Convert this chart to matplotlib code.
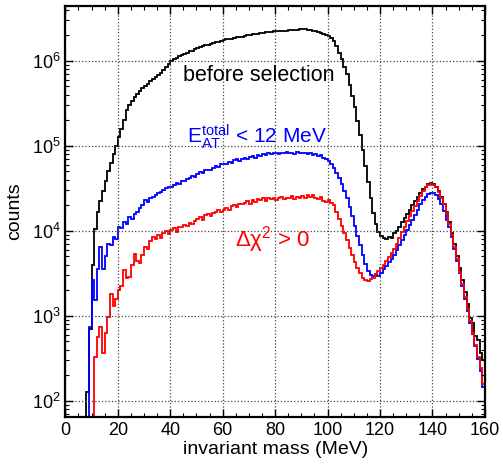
import numpy as np
import matplotlib
matplotlib.use('Agg')
import matplotlib.pyplot as plt
from matplotlib.ticker import LogLocator, NullFormatter, MultipleLocator

plt.rcParams['font.family'] = ['Liberation Sans', 'DejaVu Sans']
plt.rcParams['mathtext.fontset'] = 'custom'
plt.rcParams['mathtext.rm'] = 'Liberation Sans'
plt.rcParams['mathtext.it'] = 'Liberation Sans:italic'
plt.rcParams['mathtext.default'] = 'regular'

# bin edges in MeV (1 MeV bins)
edges = np.arange(0, 161, 1)

# log10(counts) per bin, 0 = empty bin
before_sel = [
    0, 0, 0, 0, 0, 0, 0, 0, 2.10, 2.85,
    3.60, 4.02, 4.22, 4.35, 4.47, 4.59, 4.70, 4.80, 4.90, 5.00,
    5.10, 5.20, 5.30, 5.42, 5.48, 5.53, 5.57, 5.61, 5.645, 5.675,
    5.70, 5.73, 5.76, 5.785, 5.81, 5.835, 5.86, 5.895, 5.93, 5.965,
    6.00, 6.02, 6.035, 6.055, 6.07, 6.085, 6.095, 6.11, 6.12, 6.135,
    6.145, 6.16, 6.17, 6.18, 6.19, 6.20, 6.21, 6.22, 6.225, 6.235,
    6.24, 6.25, 6.255, 6.26, 6.265, 6.275, 6.28, 6.285, 6.29, 6.30,
    6.305, 6.31, 6.315, 6.32, 6.325, 6.33, 6.335, 6.34, 6.34, 6.345,
    6.345, 6.35, 6.35, 6.355, 6.355, 6.36, 6.36, 6.365, 6.365, 6.37,
    6.37, 6.37, 6.365, 6.36, 6.355, 6.35, 6.34, 6.33, 6.32, 6.305,
    6.29, 6.265, 6.23, 6.17, 6.09, 6.02, 5.93, 5.84, 5.72, 5.59,
    5.45, 5.29, 5.13, 4.95, 4.76, 4.57, 4.38, 4.21, 4.08, 3.98,
    3.94, 3.91, 3.90, 3.93, 3.92, 3.97, 4.00, 4.05, 4.10, 4.15,
    4.20, 4.25, 4.30, 4.35, 4.40, 4.45, 4.49, 4.52, 4.55, 4.56,
    4.55, 4.52, 4.47, 4.40, 4.32, 4.22, 4.10, 3.97, 3.84, 3.70,
    3.56, 3.42, 3.28, 3.14, 2.97, 2.92, 2.76, 2.72, 2.56, 2.48,
]

eat_cut = [
    0, 0, 0, 0, 0, 0, 0, 0, 0, 2.87,
    3.42, 3.18, 3.55, 3.81, 3.55, 3.70, 3.85, 3.83, 3.93, 3.90,
    4.05, 4.03, 4.10, 4.08, 4.16, 4.14, 4.20, 4.22, 4.27, 4.30,
    4.36, 4.34, 4.38, 4.40, 4.42, 4.44, 4.46, 4.48, 4.50, 4.52,
    4.51, 4.54, 4.56, 4.55, 4.58, 4.59, 4.61, 4.62, 4.64, 4.63,
    4.67, 4.69, 4.68, 4.71, 4.72, 4.71, 4.74, 4.76, 4.75, 4.78,
    4.79, 4.78, 4.81, 4.80, 4.83, 4.84, 4.82, 4.85, 4.86, 4.85,
    4.87, 4.88, 4.86, 4.89, 4.88, 4.90, 4.89, 4.91, 4.90, 4.92,
    4.91, 4.90, 4.92, 4.91, 4.93, 4.91, 4.92, 4.90, 4.93, 4.92,
    4.91, 4.92, 4.90, 4.91, 4.89, 4.90, 4.88, 4.89, 4.86, 4.84,
    4.82, 4.78, 4.74, 4.68, 4.62, 4.55, 4.47, 4.38, 4.28, 4.17,
    4.06, 3.94, 3.83, 3.71, 3.61, 3.53, 3.48, 3.47, 3.49, 3.47,
    3.50, 3.55, 3.59, 3.63, 3.67, 3.72, 3.77, 3.83, 3.89, 3.95,
    4.01, 4.07, 4.13, 4.19, 4.25, 4.31, 4.36, 4.40, 4.43, 4.45,
    4.44, 4.42, 4.37, 4.31, 4.23, 4.13, 4.04, 3.93, 3.79, 3.65,
    3.50, 3.35, 3.20, 3.06, 2.92, 2.78, 2.64, 2.49, 2.35, 2.16,
]

chi2_cut = [
    0, 0, 0, 0, 0, 0, 0, 0, 0, 0,
    0, 2.52, 2.75, 2.87, 2.56, 2.80, 2.99, 3.26, 3.11, 3.20,
    3.30, 3.35, 3.54, 3.44, 3.46, 3.60, 3.73, 3.65, 3.62, 3.72,
    3.81, 3.78, 3.88, 3.93, 3.90, 3.95, 3.92, 3.97, 4.00, 3.96,
    4.01, 4.03, 3.99, 4.05, 4.04, 4.07, 4.06, 4.09, 4.08, 4.11,
    4.14, 4.16, 4.13, 4.18, 4.20, 4.17, 4.21, 4.22, 4.24, 4.22,
    4.25, 4.27, 4.25, 4.29, 4.30, 4.28, 4.32, 4.31, 4.33, 4.35,
    4.32, 4.36, 4.34, 4.37, 4.36, 4.38, 4.35, 4.38, 4.37, 4.39,
    4.36, 4.38, 4.40, 4.37, 4.39, 4.38, 4.41, 4.37, 4.40, 4.38,
    4.41, 4.39, 4.42, 4.40, 4.42, 4.38, 4.37, 4.40, 4.35, 4.34,
    4.36, 4.33, 4.30, 4.22, 4.14, 4.06, 3.97, 3.89, 3.80, 3.71,
    3.63, 3.56, 3.50, 3.45, 3.42, 3.41, 3.43, 3.45, 3.49, 3.53,
    3.56, 3.60, 3.64, 3.69, 3.74, 3.79, 3.85, 3.92, 3.98, 4.05,
    4.11, 4.17, 4.23, 4.29, 4.35, 4.41, 4.47, 4.51, 4.54, 4.55,
    4.54, 4.51, 4.46, 4.39, 4.31, 4.21, 4.08, 3.95, 3.81, 3.67,
    3.52, 3.37, 3.22, 3.08, 2.94, 2.80, 2.66, 2.52, 2.38, 2.20,
]

ymin, ymax = 65, 4.4e6


def counts(logvals):
    c = np.where(np.array(logvals) > 0, 10.0 ** np.array(logvals), 0.0)
    # empty bins are drawn on the frame bottom, like ROOT does
    return np.maximum(c, ymin)


fig = plt.figure(figsize=(5.03, 4.68), dpi=100)
ax = fig.add_axes([0.130, 0.1096, 0.834, 0.8775])

ax.stairs(counts(before_sel), edges, color='black', lw=1.3)
ax.stairs(counts(eat_cut), edges, color='#0000ff', lw=1.3)
ax.stairs(counts(chi2_cut), edges, color='#ff0000', lw=1.3)

ax.set_yscale('log')
ax.set_xlim(0, 160)
ax.set_ylim(ymin, ymax)

ax.xaxis.set_major_locator(MultipleLocator(20))
ax.xaxis.set_minor_locator(MultipleLocator(5))
ax.yaxis.set_major_locator(LogLocator(base=10, numticks=10))
ax.yaxis.set_minor_locator(LogLocator(base=10, subs=np.arange(2, 10), numticks=20))
ax.yaxis.set_minor_formatter(NullFormatter())

ax.tick_params(which='both', direction='in', top=True, right=True, labelsize=13)
ax.tick_params(which='major', length=6, width=1)
ax.tick_params(which='minor', length=3, width=0.8)
for s in ax.spines.values():
    s.set_linewidth(1.6)

ax.grid(True, which='major', linestyle=':', color='#444444', lw=0.9)

ax.set_xlabel('invariant mass (MeV)', fontsize=14, labelpad=2)
ax.set_ylabel('counts', fontsize=14, labelpad=6)

ax.text(45, 10**5.76, 'before selection', fontsize=15.5, color='black', va='baseline')
ax.text(46.5, 10**5.03, r'$\mathrm{E}_{\mathrm{AT}}^{\mathrm{total}}$ < 12 MeV',
        fontsize=15, color='#0000ff', va='baseline')
ax.text(64.5, 10**3.81, r'$\Delta\chi^{2}$ > 0', fontsize=16, color='#ff0000',
        va='baseline')

fig.savefig('out.png', dpi=100)
